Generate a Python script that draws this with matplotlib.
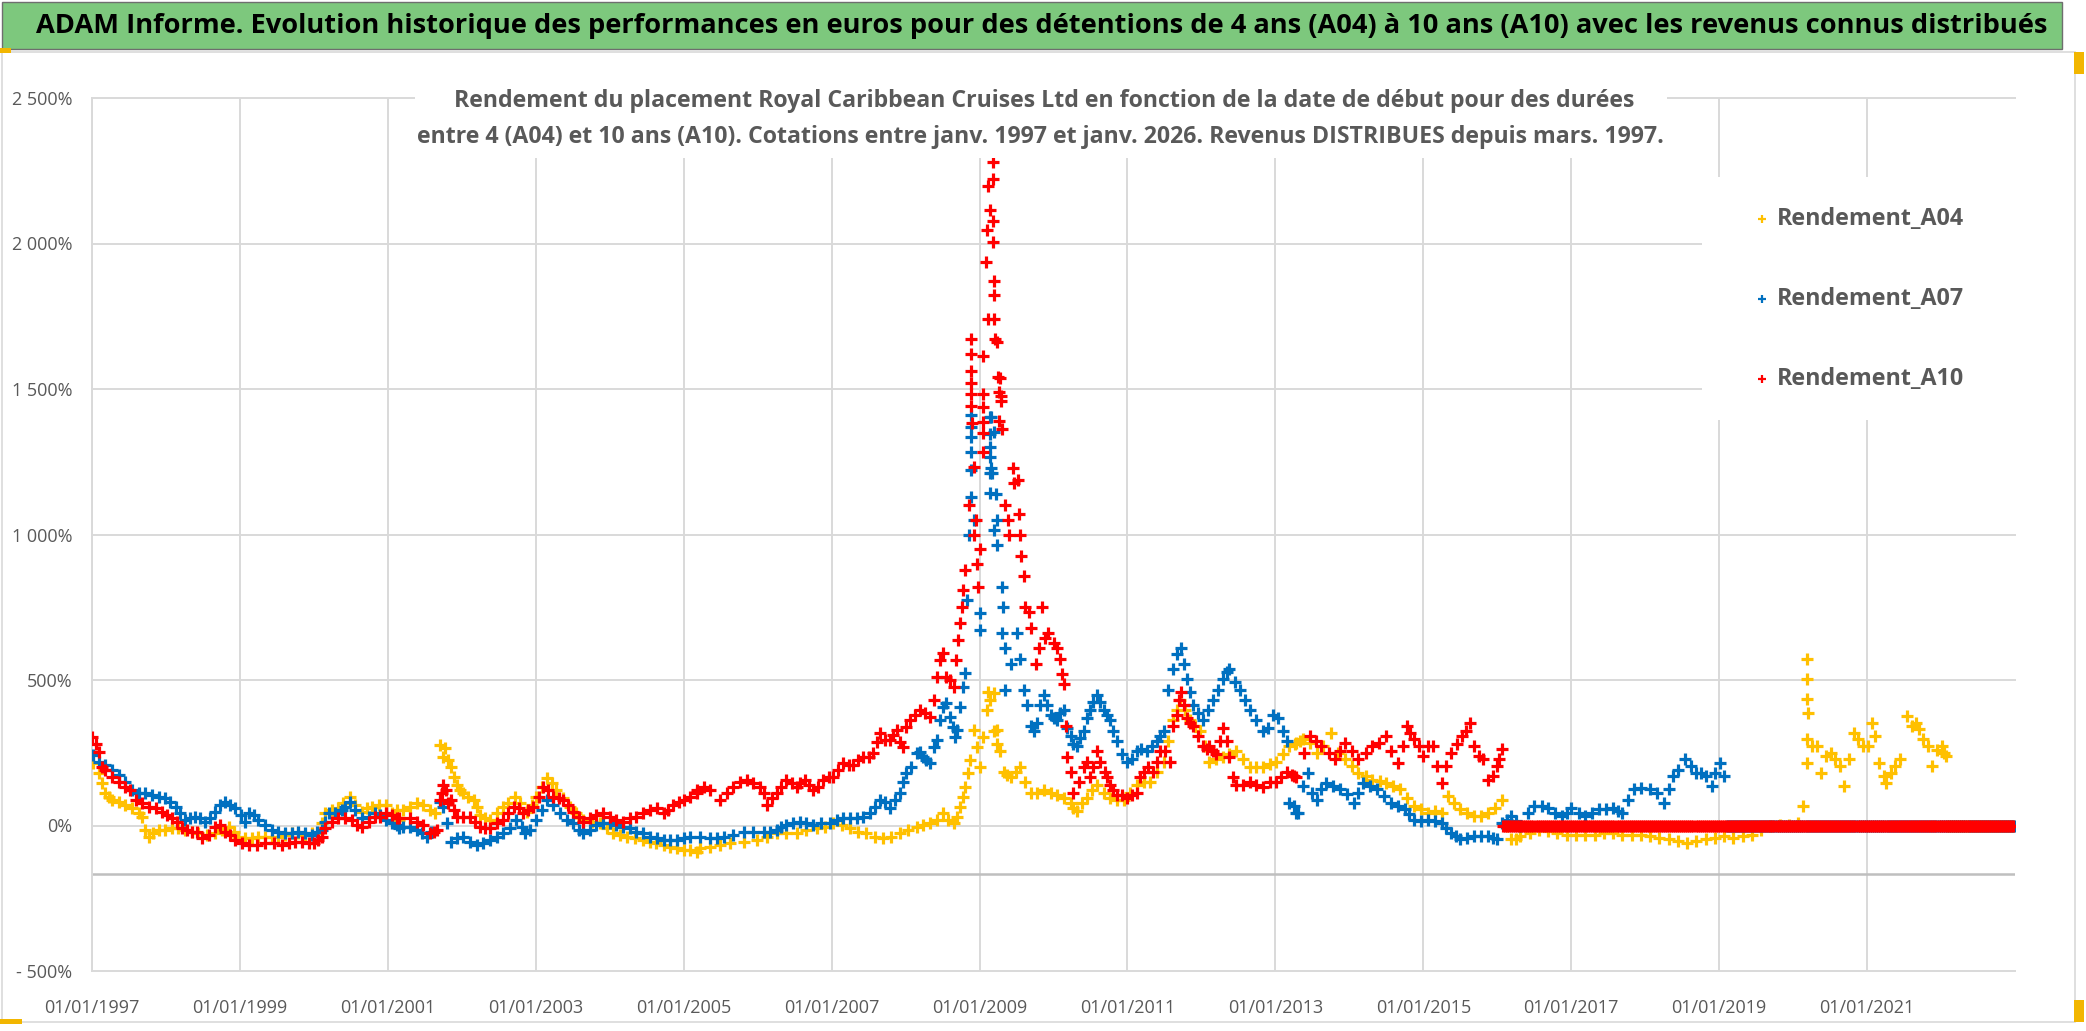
"""ADAM Informe - Royal Caribbean Cruises Ltd rolling returns (A04 / A07 / A10)."""
import numpy as np
import pandas as pd
import matplotlib
matplotlib.use("Agg")
import matplotlib.pyplot as plt
from matplotlib.patches import Rectangle
from matplotlib.lines import Line2D

W, H = 2086, 1031
FONT = ["Open Sans", "DejaVu Sans"]
GREY_TXT = "#595959"
GRID = "#D9D9D9"

TITLE = ("ADAM Informe. Evolution historique des performances en euros pour des "
         "détentions de 4 ans (A04) à 10 ans (A10) avec les revenus connus distribués")
SUB1 = ("Rendement du placement Royal Caribbean Cruises Ltd en fonction de la date "
        "de début pour des durées")
SUB2 = ("entre 4 (A04) et 10 ans (A10). Cotations entre janv. 1997 et janv. 2026. "
        "Revenus DISTRIBUES depuis mars. 1997.")

SERIES = ["Rendement_A04", "Rendement_A07", "Rendement_A10"]
COLORS = ["#FFC000", "#0070C0", "#FF0000"]

TICK_YEARS = [1997, 1999, 2001, 2003, 2005, 2007, 2009, 2011, 2013, 2015, 2017, 2019, 2021]
X_TICK_LABELS = ["01/01/%d" % y for y in TICK_YEARS]
Y_TICKS = [-500, 0, 500, 1000, 1500, 2000, 2500]
Y_TICK_LABELS = ["- 500%", "0%", "500%", "1 000%", "1 500%", "2 000%", "2 500%"]
X_START, X_END = 1997.0, 2023.0
AXIS_CROSS = -167  # where excel draws the horizontal axis line

# (decimal year of start date, return in %)
A04_POINTS = [
    (1997.02, 214), (1997.09, 179), (1997.18, 110), (1997.27, 88), (1997.45, 70),
    (1997.63, 42), (1997.72, -15), (1997.77, -38), (1997.90, -15), (1998.08, -10),
    (1998.26, -15), (1998.44, -27), (1998.67, -27), (1998.85, -4), (1998.98, -38),
    (1999.16, -44), (1999.34, -38), (1999.52, -38), (1999.70, -27), (1999.88, -33),
    (2000.06, -27), (2000.15, 42), (2000.33, 59), (2000.49, 99), (2000.65, 48),
    (2000.79, 65), (2000.97, 70), (2001.15, 19), (2001.21, 53), (2001.39, 76),
    (2001.57, 53), (2001.71, 277), (2001.77, 265), (2001.86, 202), (2001.93, 139),
    (2002.02, 110), (2002.16, 88), (2002.25, 36), (2002.38, 19), (2002.56, 65),
    (2002.72, 99), (2002.88, 48), (2003.01, 99), (2003.15, 162), (2003.28, 122),
    (2003.46, 65), (2003.64, 19), (2003.87, 7), (2004.05, -27), (2004.23, -38),
    (2004.45, -50), (2004.63, -61), (2004.82, -73), (2005.00, -84), (2005.18, -90),
    (2005.36, -73), (2005.63, -61), (2005.99, -50), (2006.26, -27), (2006.53, -27),
    (2006.80, -10), (2007.02, 7), (2007.25, -10), (2007.47, -27), (2007.70, -44),
    (2007.92, -27), (2008.15, -4), (2008.33, 7), (2008.51, 42), (2008.65, 7),
    (2008.73, 65), (2008.80, 133), (2008.87, 225), (2008.92, 328), (2009.01, 202),
    (2009.05, 305), (2009.12, 460), (2009.14, 431), (2009.19, 326), (2009.23, 328),
    (2009.28, 255), (2009.33, 184), (2009.42, 166), (2009.55, 202), (2009.69, 113),
    (2009.87, 122), (2010.05, 104), (2010.23, 78), (2010.32, 51), (2010.45, 96),
    (2010.59, 140), (2010.77, 96), (2010.95, 87), (2011.13, 140), (2011.31, 149),
    (2011.49, 219), (2011.62, 361), (2011.71, 432), (2011.84, 361), (2011.98, 326),
    (2012.11, 219), (2012.29, 237), (2012.47, 255), (2012.65, 202), (2012.83, 202),
    (2013.01, 219), (2013.19, 273), (2013.33, 290), (2013.37, 296), (2013.56, 250),
    (2013.75, 319), (2013.94, 227), (2014.12, 181), (2014.31, 158), (2014.50, 147),
    (2014.69, 124), (2014.87, 66), (2015.06, 44), (2015.25, 44), (2015.34, 101),
    (2015.50, 55), (2015.69, 32), (2015.88, 44), (2016.06, 89), (2016.19, -48),
    (2016.31, -37), (2016.56, -14), (2016.81, -25), (2017.07, -31), (2017.32, -31),
    (2017.57, -25), (2017.82, -31), (2018.07, -37), (2018.32, -48), (2018.57, -60),
    (2018.82, -48), (2019.07, -37), (2019.32, -37), (2019.57, -14), (2019.82, 3),
    (2020.07, 9), (2020.13, 66), (2020.19, 571), (2020.19, 502), (2020.19, 434),
    (2020.20, 388), (2020.19, 296), (2020.19, 216), (2020.32, 273), (2020.38, 181),
    (2020.51, 250), (2020.63, 204), (2020.69, 135), (2020.82, 319), (2020.94, 273),
    (2021.07, 353), (2021.16, 216), (2021.26, 147), (2021.38, 204), (2021.54, 376),
    (2021.66, 353), (2021.76, 296), (2021.88, 204), (2022.01, 273), (2022.07, 238),
]
# second pass of readings, in between the first ones
A04_MORE = [
    (1997.14, 145), (1997.23, 99), (1997.36, 82), (1997.54, 59), (1997.68, 30),
    (1997.83, -27), (1997.99, -15), (1998.17, -10), (1998.35, -21), (1998.55, -33),
    (1998.76, -15), (1998.92, -21), (1999.07, -44), (1999.25, -38), (1999.43, -38),
    (1999.61, -33), (1999.79, -27), (1999.97, -27), (2000.11, 7), (2000.24, 53),
    (2000.40, 76), (2000.56, 70), (2000.72, 59), (2000.88, 70), (2001.06, 42),
    (2001.12, 53), (2001.30, 65), (2001.48, 70), (2001.64, 42), (2001.74, 236),
    (2001.82, 225), (2001.90, 168), (2001.98, 122), (2002.09, 99), (2002.20, 65),
    (2002.31, 25), (2002.47, 42), (2002.63, 76), (2002.79, 76), (2002.95, 70),
    (2003.08, 133), (2003.22, 145), (2003.37, 93), (2003.55, 42), (2003.76, 13),
    (2003.96, -10), (2004.14, -33), (2004.34, -44), (2004.55, -56), (2004.73, -67),
    (2004.91, -78), (2005.09, -84), (2005.22, -78), (2005.49, -67), (2005.81, -56),
    (2006.12, -38), (2006.39, -27), (2006.66, -15), (2006.91, -4), (2007.14, 2),
    (2007.36, -21), (2007.59, -38), (2007.81, -38), (2008.04, -15), (2008.24, 2),
    (2008.42, 19), (2008.58, 19), (2008.69, 30), (2008.77, 99), (2008.84, 179),
    (2008.96, 271), (2009.10, 397), (2009.19, 454), (2009.24, 281), (2009.37, 175),
    (2009.49, 184), (2009.62, 149), (2009.78, 113), (2009.96, 113), (2010.14, 96),
    (2010.27, 60), (2010.38, 78), (2010.52, 122), (2010.68, 113), (2010.86, 87),
    (2011.04, 113), (2011.22, 149), (2011.40, 184), (2011.55, 290), (2011.67, 396),
    (2011.78, 396), (2011.91, 343), (2012.05, 273), (2012.20, 228), (2012.38, 246),
    (2012.56, 228), (2012.74, 202), (2012.92, 211), (2013.10, 246), (2013.26, 281),
    (2013.28, 284), (2013.47, 284), (2013.65, 273), (2013.84, 250), (2014.03, 204),
    (2014.22, 170), (2014.41, 152), (2014.59, 135), (2014.78, 95), (2014.97, 55),
    (2015.16, 49), (2015.41, 78), (2015.59, 43), (2015.78, 32), (2015.97, 61),
    (2016.13, -3), (2016.25, -48), (2016.44, -25), (2016.69, -20), (2016.94, -31),
    (2017.19, -31), (2017.44, -25), (2017.69, -31), (2017.94, -31), (2018.19, -43),
    (2018.44, -54), (2018.69, -54), (2018.94, -43), (2019.19, -43), (2019.44, -31),
    (2019.69, -3), (2019.94, 3), (2020.26, 273), (2020.44, 238), (2020.57, 227),
    (2020.76, 227), (2020.88, 296), (2021.01, 273), (2021.10, 307), (2021.23, 170),
    (2021.32, 181), (2021.45, 227), (2021.60, 342), (2021.70, 330), (2021.82, 273),
    (2021.95, 261), (2022.04, 250),
]

A07_POINTS = [
    (1997.02, 242), (1997.09, 219), (1997.27, 191), (1997.45, 151), (1997.63, 110),
    (1997.81, 105), (1997.99, 93), (1998.13, 65), (1998.26, 19), (1998.40, 30),
    (1998.53, 13), (1998.67, 48), (1998.80, 82), (1998.94, 59), (1999.07, 13),
    (1999.12, 42), (1999.25, 19), (1999.43, -15), (1999.61, -27), (1999.79, -21),
    (1999.97, -33), (2000.11, -15), (2000.20, 42), (2000.38, 53), (2000.49, 82),
    (2000.65, 25), (2000.83, 42), (2000.97, 19), (2001.15, -10), (2001.21, -4),
    (2001.39, -15), (2001.53, -38), (2001.71, 80), (2001.80, 7), (2001.86, -56),
    (2002.02, -38), (2002.20, -67), (2002.38, -50), (2002.56, -27), (2002.74, 19),
    (2002.86, -27), (2003.01, 19), (2003.15, 88), (2003.33, 42), (2003.51, 7),
    (2003.64, -27), (2003.82, 1), (2004.00, 7), (2004.18, -4), (2004.36, -21),
    (2004.54, -38), (2004.73, -50), (2004.91, -50), (2005.09, -38), (2005.36, -44),
    (2005.54, -38), (2005.81, -21), (2006.08, -21), (2006.26, -15), (2006.39, 1),
    (2006.57, 13), (2006.75, 1), (2006.98, 7), (2007.16, 25), (2007.34, 25),
    (2007.52, 42), (2007.65, 88), (2007.79, 59), (2007.92, 110), (2008.01, 179),
    (2008.15, 248), (2008.24, 237), (2008.33, 214), (2008.42, 294), (2008.51, 408),
    (2008.60, 374), (2008.67, 305), (2008.73, 408), (2008.80, 523), (2008.83, 775),
    (2008.86, 1000), (2008.89, 1410), (2008.89, 1370), (2008.89, 1336), (2008.89, 1284),
    (2008.89, 1221), (2008.89, 1130), (2008.92, 1050), (2009.01, 729), (2009.01, 672),
    (2009.14, 1404), (2009.14, 1347), (2009.14, 1301), (2009.14, 1267), (2009.14, 1210),
    (2009.14, 1141), (2009.15, 1405), (2009.15, 1228), (2009.17, 1211), (2009.19, 1352),
    (2009.19, 1016), (2009.22, 1140), (2009.23, 1051), (2009.24, 963), (2009.31, 821),
    (2009.32, 750), (2009.31, 662), (2009.35, 609), (2009.35, 467), (2009.42, 556),
    (2009.51, 662), (2009.55, 573), (2009.60, 467), (2009.64, 414), (2009.69, 343),
    (2009.73, 326), (2009.87, 450), (2009.96, 379), (2010.05, 361), (2010.14, 396),
    (2010.23, 308), (2010.32, 273), (2010.41, 326), (2010.50, 396), (2010.59, 450),
    (2010.68, 396), (2010.77, 361), (2010.86, 290), (2010.99, 219), (2011.13, 255),
    (2011.26, 255), (2011.40, 290), (2011.49, 326), (2011.62, 538), (2011.73, 609),
    (2011.80, 503), (2011.89, 414), (2012.02, 361), (2012.16, 432), (2012.29, 503),
    (2012.38, 538), (2012.52, 467), (2012.65, 396), (2012.83, 326), (2012.97, 379),
    (2013.10, 326), (2013.19, 78), (2013.28, 42), (2013.31, 44), (2013.44, 181),
    (2013.56, 89), (2013.69, 147), (2013.87, 124), (2014.06, 78), (2014.19, 147),
    (2014.37, 124), (2014.56, 78), (2014.75, 55), (2014.87, 20), (2015.06, 20),
    (2015.25, 9), (2015.38, -25), (2015.50, -48), (2015.69, -37), (2015.88, -37),
    (2016.00, -48), (2016.06, 9), (2016.19, 32), (2016.31, -2), (2016.50, 66),
    (2016.69, 61), (2016.88, 32), (2017.00, 61), (2017.19, 32), (2017.38, 55),
    (2017.57, 61), (2017.69, 44), (2017.85, 124), (2018.07, 124), (2018.25, 78),
    (2018.38, 169), (2018.54, 227), (2018.69, 181), (2018.82, 169), (2018.91, 135),
    (2019.01, 216), (2019.07, 169),
]
A07_MORE = [
    (1997.18, 208), (1997.36, 174), (1997.54, 122), (1997.72, 110), (1997.90, 99),
    (1998.06, 82), (1998.19, 42), (1998.33, 25), (1998.46, 25), (1998.60, 25),
    (1998.73, 70), (1998.87, 70), (1999.01, 36), (1999.19, 36), (1999.34, 2),
    (1999.52, -21), (1999.70, -27), (1999.88, -27), (2000.04, -21), (2000.15, 13),
    (2000.29, 42), (2000.42, 65), (2000.56, 53), (2000.74, 30), (2000.90, 36),
    (2001.06, 7), (2001.12, 2), (2001.30, -4), (2001.46, -27), (2001.59, -21),
    (2001.75, 65), (2001.93, -44), (2002.11, -56), (2002.29, -61), (2002.47, -38),
    (2002.65, -10), (2002.81, -4), (2002.92, -15), (2003.08, 53), (2003.24, 70),
    (2003.42, 19), (2003.58, -15), (2003.73, -15), (2003.91, 7), (2004.09, 2),
    (2004.27, -10), (2004.45, -27), (2004.64, -44), (2004.82, -50), (2005.00, -44),
    (2005.22, -38), (2005.45, -44), (2005.67, -33), (2005.94, -21), (2006.17, -21),
    (2006.32, -4), (2006.48, 7), (2006.66, 7), (2006.86, 7), (2007.07, 19),
    (2007.25, 25), (2007.43, 30), (2007.59, 65), (2007.72, 82), (2007.86, 88),
    (2007.97, 151), (2008.08, 202), (2008.19, 254), (2008.28, 225), (2008.38, 271),
    (2008.46, 363), (2008.55, 420), (2008.64, 340), (2008.70, 328), (2008.77, 477),
    (2009.78, 352), (2009.82, 414), (2009.91, 414), (2010.00, 370), (2010.09, 388),
    (2010.18, 335), (2010.27, 281), (2010.36, 299), (2010.45, 370), (2010.54, 423),
    (2010.63, 423), (2010.72, 379), (2010.81, 326), (2010.92, 246), (2011.06, 228),
    (2011.19, 264), (2011.33, 273), (2011.44, 308), (2011.55, 467), (2011.67, 591),
    (2011.76, 556), (2011.84, 458), (2011.96, 388), (2012.09, 396), (2012.23, 467),
    (2012.34, 529), (2012.45, 494), (2012.59, 432), (2012.74, 361), (2012.90, 335),
    (2013.04, 370), (2013.15, 290), (2013.25, 66), (2013.37, 135), (2013.50, 112),
    (2013.62, 124), (2013.78, 135), (2013.97, 107), (2014.12, 112), (2014.28, 135),
    (2014.47, 101), (2014.66, 66), (2014.81, 38), (2014.97, 15), (2015.16, 15),
    (2015.31, -8), (2015.44, -37), (2015.59, -43), (2015.78, -37), (2015.94, -43),
    (2016.13, 20), (2016.25, 15), (2016.41, 43), (2016.60, 66), (2016.78, 43),
    (2016.94, 43), (2017.10, 43), (2017.28, 43), (2017.47, 55), (2017.63, 49),
    (2017.77, 89), (2017.94, 129), (2018.16, 112), (2018.32, 124), (2018.45, 192),
    (2018.62, 204), (2018.75, 181), (2018.95, 181),
]

A10_POINTS = [
    (1997.00, 305), (1997.05, 280), (1997.09, 254), (1997.14, 202), (1997.27, 168),
    (1997.45, 133), (1997.59, 88), (1997.77, 65), (1997.95, 48), (1998.08, 25),
    (1998.22, -10), (1998.35, -21), (1998.49, -44), (1998.67, -4), (1998.80, -21),
    (1998.94, -50), (1999.12, -67), (1999.34, -61), (1999.57, -67), (1999.75, -56),
    (1999.93, -61), (2000.06, -50), (2000.15, -10), (2000.33, 25), (2000.52, 19),
    (2000.65, -4), (2000.83, 30), (2000.97, 42), (2001.15, 25), (2001.39, 13),
    (2001.57, -27), (2001.66, -15), (2001.71, 88), (2001.75, 139), (2001.82, 76),
    (2001.86, 88), (2001.93, 30), (2002.11, 30), (2002.25, -4), (2002.38, -10),
    (2002.56, 19), (2002.70, 65), (2002.83, 42), (2002.97, 65), (2003.10, 133),
    (2003.24, 99), (2003.37, 88), (2003.51, 48), (2003.64, 13), (2003.82, 36),
    (2004.00, 30), (2004.18, 13), (2004.36, 30), (2004.54, 53), (2004.73, 42),
    (2004.86, 70), (2005.00, 88), (2005.18, 122), (2005.27, 133), (2005.49, 88),
    (2005.67, 133), (2005.85, 156), (2006.03, 133), (2006.12, 70), (2006.26, 110),
    (2006.39, 156), (2006.53, 133), (2006.64, 156), (2006.75, 122), (2006.89, 156),
    (2007.02, 168), (2007.16, 214), (2007.29, 208), (2007.43, 237), (2007.56, 248),
    (2007.65, 317), (2007.79, 294), (2007.88, 328), (2007.97, 271), (2008.06, 363),
    (2008.19, 397), (2008.33, 374), (2008.42, 511), (2008.51, 592), (2008.55, 511),
    (2008.65, 477), (2008.71, 637), (2008.76, 752), (2008.80, 878), (2008.86, 1100),
    (2008.89, 1672), (2008.89, 1619), (2008.89, 1562), (2008.89, 1521), (2008.89, 1484),
    (2008.89, 1441), (2008.90, 1384), (2008.92, 1000), (2008.93, 1233), (2008.95, 1050),
    (2008.96, 900), (2008.98, 820), (2009.00, 950), (2009.05, 1614), (2009.05, 1484),
    (2009.05, 1438), (2009.05, 1388), (2009.05, 1348), (2009.05, 1284), (2009.09, 1935),
    (2009.10, 2046), (2009.11, 2197), (2009.11, 1741), (2009.14, 2115), (2009.18, 2280),
    (2009.18, 2220), (2009.18, 2078), (2009.18, 2005), (2009.20, 1872), (2009.20, 1823),
    (2009.20, 1742), (2009.21, 1671), (2009.23, 1660), (2009.25, 1541), (2009.26, 1490),
    (2009.26, 1390), (2009.27, 1538), (2009.29, 1459), (2009.29, 1476), (2009.30, 1364),
    (2009.35, 1100), (2009.38, 1050), (2009.40, 998), (2009.45, 1227), (2009.46, 1176),
    (2009.52, 1187), (2009.53, 1069), (2009.55, 998), (2009.56, 927), (2009.60, 857),
    (2009.62, 750), (2009.69, 680), (2009.76, 556), (2009.84, 750), (2009.89, 644),
    (2010.00, 627), (2010.09, 573), (2010.14, 485), (2010.17, 343), (2010.18, 237),
    (2010.27, 113), (2010.41, 202), (2010.50, 166), (2010.59, 255), (2010.70, 184),
    (2010.77, 140), (2010.86, 104), (2011.00, 96), (2011.13, 113), (2011.22, 184),
    (2011.35, 184), (2011.44, 255), (2011.58, 219), (2011.67, 379), (2011.73, 458),
    (2011.80, 370), (2011.89, 343), (2012.02, 273), (2012.11, 273), (2012.20, 246),
    (2012.29, 335), (2012.38, 237), (2012.47, 140), (2012.65, 149), (2012.83, 131),
    (2013.01, 149), (2013.15, 184), (2013.28, 166), (2013.47, 307), (2013.62, 273),
    (2013.81, 227), (2013.94, 284), (2014.12, 227), (2014.31, 273), (2014.50, 307),
    (2014.66, 216), (2014.78, 342), (2014.87, 296), (2015.00, 238), (2015.13, 273),
    (2015.25, 147), (2015.38, 250), (2015.53, 307), (2015.63, 353), (2015.69, 273),
    (2015.81, 227), (2015.88, 158), (2016.00, 204), (2016.06, 262),
]
A10_MORE = [
    (1997.18, 191), (1997.36, 150), (1997.52, 122), (1997.68, 76), (1997.86, 59),
    (1998.01, 36), (1998.15, 13), (1998.28, -15), (1998.42, -21), (1998.58, -33),
    (1998.73, 2), (1998.87, -33), (1999.03, -61), (1999.23, -67), (1999.46, -61),
    (1999.66, -61), (1999.84, -56), (2000.00, -61), (2000.11, -38), (2000.24, 13),
    (2000.42, 25), (2000.58, 2), (2000.74, 13), (2000.90, 30), (2001.06, 36),
    (2001.12, 25), (2001.30, 25), (2001.48, 2), (2001.62, -21), (2001.73, 110),
    (2001.79, 122), (2001.90, 53), (2002.02, 30), (2002.18, 13), (2002.31, -10),
    (2002.47, 7), (2002.63, 42), (2002.77, 59), (2002.90, 53), (2003.04, 99),
    (2003.17, 122), (2003.31, 93), (2003.44, 70), (2003.58, 30), (2003.73, 25),
    (2003.91, 42), (2004.09, 19), (2004.27, 25), (2004.45, 42), (2004.64, 59),
    (2004.79, 53), (2004.93, 82), (2005.09, 99), (2005.18, 111), (2005.36, 122),
    (2005.58, 111), (2005.76, 151), (2005.94, 145), (2006.08, 111), (2006.19, 93),
    (2006.32, 133), (2006.46, 145), (2006.57, 145), (2006.70, 139), (2006.82, 133),
    (2006.96, 168), (2007.09, 191), (2007.23, 208), (2007.36, 225), (2007.50, 237),
    (2007.61, 288), (2007.72, 294), (2007.83, 311), (2007.92, 288), (2008.01, 340),
    (2008.13, 380), (2008.26, 385), (2008.38, 431), (2008.46, 569), (2008.60, 500),
    (2008.68, 569), (2008.74, 695), (2008.78, 809), (2009.67, 733), (2009.80, 609),
    (2009.93, 662), (2010.05, 609), (2010.11, 520), (2010.23, 184), (2010.34, 149),
    (2010.45, 219), (2010.54, 202), (2010.63, 219), (2010.72, 166), (2010.81, 122),
    (2010.92, 104), (2011.06, 104), (2011.17, 166), (2011.28, 202), (2011.40, 219),
    (2011.51, 255), (2011.62, 343), (2011.70, 432), (2011.76, 414), (2011.84, 352),
    (2011.96, 308), (2012.07, 264), (2012.16, 255), (2012.25, 290), (2012.34, 290),
    (2012.43, 166), (2012.56, 140), (2012.74, 140), (2012.92, 149), (2013.08, 166),
    (2013.22, 175), (2013.25, 170), (2013.39, 250), (2013.55, 290), (2013.72, 250),
    (2013.87, 256), (2014.03, 256), (2014.22, 250), (2014.40, 284), (2014.57, 256),
    (2014.72, 273), (2014.82, 319), (2014.94, 273), (2015.06, 273), (2015.19, 204),
    (2015.31, 204), (2015.45, 279), (2015.58, 324), (2015.75, 238), (2015.94, 170),
    (2016.03, 227),
]

# after these start dates the holding period is not over yet: excel shows 0 %
ZERO_FROM = [2022.10, 2019.10, 2016.08]


def to_dates(years):
    out = []
    for y in years:
        yi = int(np.floor(y))
        a, b = pd.Timestamp(yi, 1, 1), pd.Timestamp(yi + 1, 1, 1)
        out.append(a + (b - a) * (y - yi))
    return out


def fx(px):
    return px / W


def fy(py):
    return 1 - py / H


fig = plt.figure(figsize=(W / 100, H / 100), dpi=100)
fig.patch.set_facecolor("white")
ax = fig.add_axes([fx(92), fy(971), fx(2015) - fx(92), (971 - 98) / H])

all_series = [A04_POINTS + A04_MORE, A07_POINTS + A07_MORE, A10_POINTS + A10_MORE]
for pts, z0, color in zip(all_series, ZERO_FROM, COLORS):
    pts = sorted(pts)
    t = [p[0] for p in pts]
    v = [p[1] for p in pts]
    zt = pd.date_range(to_dates([z0])[0], to_dates([X_END])[0], freq="10D")
    dates = to_dates(t) + list(zt)
    vals = v + [0.0] * len(zt)
    ax.plot(dates, vals, linestyle="none", marker="+", ms=8.5, mew=2.3,
            color=color, zorder=3)

ax.set_xlim(to_dates([X_START])[0], to_dates([X_END])[0])
ax.set_ylim(-500, 2500)

for yv in Y_TICKS:
    ax.axhline(yv, color=GRID, lw=1.4, zorder=0, clip_on=False)
for d in to_dates(TICK_YEARS):
    ax.axvline(d, color=GRID, lw=1.4, zorder=0)
ax.axhline(AXIS_CROSS, color="#BFBFBF", lw=1.8, zorder=1)

for s in ["top", "right", "bottom"]:
    ax.spines[s].set_visible(False)
ax.spines["left"].set_color(GRID)
ax.spines["left"].set_linewidth(1.4)

ax.set_yticks(Y_TICKS)
ax.set_yticklabels(Y_TICK_LABELS)
ax.set_xticks(to_dates(TICK_YEARS))
ax.set_xticklabels(X_TICK_LABELS)
ax.tick_params(axis="y", length=0, pad=14, labelsize=13, labelcolor=GREY_TXT)
ax.tick_params(axis="x", length=0, pad=20, labelsize=13, labelcolor=GREY_TXT)
for lab in ax.get_xticklabels() + ax.get_yticklabels():
    lab.set_family(FONT)

# outer frame of the chart object and the green banner
fig.add_artist(Rectangle((fx(2), fy(1022)), fx(2075) - fx(2), (1022 - 52) / H,
                         transform=fig.transFigure, facecolor="none",
                         edgecolor=GRID, lw=1.2, zorder=1))
fig.add_artist(Rectangle((fx(2), fy(49)), fx(2062) - fx(2), 47 / H,
                         transform=fig.transFigure, facecolor="#7DC87D",
                         edgecolor="#6E6E6E", lw=1.0, zorder=1))
for (x0, y0, w, h) in [(0, 48, 11, 5), (0, 1019, 22, 5), (2074, 52, 10, 22),
                       (2074, 1000, 10, 22)]:
    fig.add_artist(Rectangle((fx(x0), fy(y0 + h)), w / W, h / H,
                             transform=fig.transFigure, facecolor="#F2B600",
                             edgecolor="none", zorder=2))

# white boxes behind the subtitle and the legend
fig.add_artist(Rectangle((fx(415), fy(158)), fx(1667) - fx(415), (158 - 62) / H,
                         transform=fig.transFigure, facecolor="white",
                         edgecolor="none", zorder=1))
fig.add_artist(Rectangle((fx(1702), fy(420)), fx(2020) - fx(1702), (420 - 177) / H,
                         transform=fig.transFigure, facecolor="white",
                         edgecolor="none", zorder=1))

renderer = fig.canvas.get_renderer()


def fit(txt, width_px):
    bb = txt.get_window_extent(renderer)
    txt.set_fontsize(txt.get_fontsize() * width_px / bb.width)


title = fig.text(fx(1042), fy(26), TITLE, ha="center", va="center", fontsize=20,
                 fontweight="bold", color="black", family=FONT, zorder=3)
fit(title, 2010)

s1 = fig.text(fx(1044), fy(101), SUB1, ha="center", va="center", fontsize=16,
              fontweight="bold", color=GREY_TXT, family=FONT, zorder=3)
s2 = fig.text(fx(1040), fy(137), SUB2, ha="center", va="center", fontsize=16,
              fontweight="bold", color=GREY_TXT, family=FONT, zorder=3)
fit(s2, 1247)
s1.set_fontsize(s2.get_fontsize())

for i, (name, color) in enumerate(zip(SERIES, COLORS)):
    yy = 219 + 80 * i
    fig.add_artist(Line2D([fx(1762)], [fy(yy)], transform=fig.transFigure,
                          marker="+", ms=6, mew=1.6, color=color,
                          linestyle="none", zorder=3))
    lt = fig.text(fx(1777), fy(yy), name, ha="left", va="center", fontsize=16,
                  fontweight="bold", color=GREY_TXT, family=FONT, zorder=3)
    fit(lt, 188)

fig.savefig("out.png", dpi=100, facecolor="white")
